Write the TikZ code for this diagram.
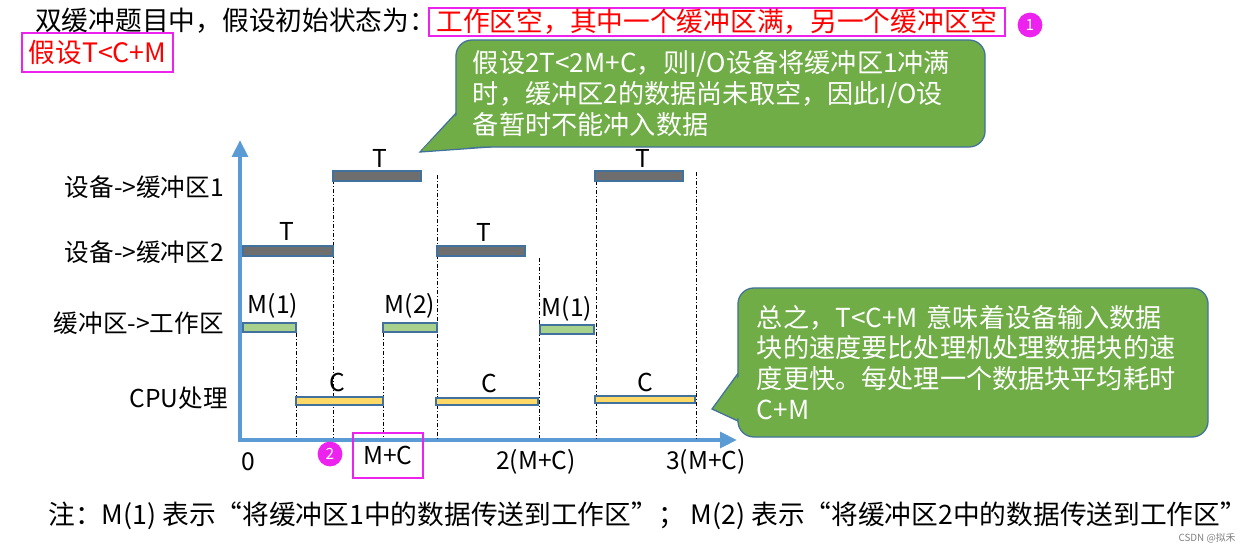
\documentclass[tikz,border=0pt]{standalone}
\usepackage{fontspec}
\usepackage{graphicx}
\setmainfont{Noto Sans CJK SC}
\usetikzlibrary{arrows.meta}
\definecolor{cb_green}{HTML}{70AD47}
\definecolor{cb_edge}{HTML}{41719C}
\definecolor{cb_axis}{HTML}{5B9BD5}
\definecolor{cb_gray}{HTML}{6E6E6E}
\definecolor{cb_lgreen}{HTML}{A9D18E}
\definecolor{cb_yellow}{HTML}{FFD966}
\definecolor{cb_pink}{HTML}{EE22EE}
\tikzstyle{txt}=[inner sep=0pt,font=\fontsize{19}{22}\selectfont]
\tikzstyle{lbl}=[inner sep=0pt,anchor=east,font=\fontsize{17.5}{21}\selectfont]
\tikzstyle{tag}=[inner sep=0pt,font=\fontsize{17.5}{21}\selectfont]
\tikzstyle{redbox}=[draw=cb_pink,line width=1.5pt,text=red,inner sep=0pt,
  font=\fontsize{19}{22}\selectfont]
\tikzstyle{badge}=[circle,fill=cb_pink,text=white,inner sep=0pt,
  minimum size=0.62cm,font=\fontsize{11}{12}\selectfont]
\tikzstyle{note}=[rectangle,rounded corners=0.4cm,fill=cb_green,draw=cb_edge,
  line width=0.9pt,text=white,align=left,inner sep=0pt,
  font=\fontsize{18.6}{22}\selectfont]
\tikzstyle{tri}=[fill=cb_green,draw=cb_edge,line width=0.9pt,line join=miter]
\tikzstyle{bar}=[draw=cb_edge,line width=0.8pt]
\tikzstyle{dashdot}=[line width=0.6pt,dash pattern=on 2.8pt off 1.4pt on 0.7pt off 1.4pt]
\tikzstyle{axis}=[draw=cb_axis,line width=3.5pt,-{Triangle[length=12pt,width=11pt]}]
\tikzstyle{none}=[]

\begin{document}
\begin{tikzpicture}[x=0.025cm,y=-0.025cm]
    \useasboundingbox (0,0) rectangle (1248,545);
            % heading
            \node [style=txt,anchor=west] (0) at (35,21) {双缓冲题目中，假设初始状态为：};
            \node [style=redbox,minimum width=14.375cm,minimum height=0.7cm] (1) at (717,22) {工作区空，其中一个缓冲区满，另一个缓冲区空};
            \node [style=badge] (2) at (1030,25) {1};
            \node [style=redbox,minimum width=3.775cm,minimum height=0.975cm] (3) at (97.5,52.5) {假设T<C+M};
            % callouts
            \path [style=tri] (420,152) -- (457,112) -- (490,147) -- cycle;
            \node [style=note,minimum width=13.225cm,minimum height=2.675cm,text width=12.375cm] (4) at (720.5,93.5)
              {假设2T<2M+C，则I/O设备将缓冲区1冲满\\时，缓冲区2的数据尚未取空，因此I/O设\\备暂时不能冲入数据};
            \fill [cb_green] (422,150) -- (458,114) -- (488,146) -- cycle;
            \path [style=tri] (712,409) -- (739,372) -- (740,422) -- cycle;
            \node [style=note,minimum width=11.75cm,minimum height=3.725cm,text width=10.8cm] (5) at (973,362.5)
              {总之，T<C+M 意味着设备输入数据\\块的速度要比处理机处理数据块的速\\度更快。每处理一个数据块平均耗时\\C+M};
            \fill [cb_green] (715,408) -- (741,374) -- (742,420) -- cycle;
            % axes
            \coordinate (6) at (240,442);
            \coordinate (7) at (240,140);
            \coordinate (8) at (737,440);
            \draw [style=axis] (6) to (7);
            \draw [style=axis] (238,440) to (8);
            % row labels
            \node [style=lbl] (9) at (224,187) {设备->缓冲区1};
            \node [style=lbl] (10) at (224,252) {设备->缓冲区2};
            \node [style=lbl] (11) at (224,323) {缓冲区->工作区};
            \node [style=lbl] (12) at (228,398) {CPU处理};
            % time marks
            \foreach \x/\y in {296/333,333/180,383/333,437/175,539/258,596/181,696/172}
              \draw [style=dashdot] (\x,\y) -- (\x,438);
            % bars
            \filldraw [style=bar,fill=cb_gray] (333,171) rectangle (421,181);
            \filldraw [style=bar,fill=cb_gray] (595,171) rectangle (683,181);
            \filldraw [style=bar,fill=cb_gray] (243,246) rectangle (333,256);
            \filldraw [style=bar,fill=cb_gray] (437,246) rectangle (525,256);
            \filldraw [style=bar,fill=cb_lgreen] (243,323) rectangle (296,332);
            \filldraw [style=bar,fill=cb_lgreen] (383,323) rectangle (437,332);
            \filldraw [style=bar,fill=cb_lgreen] (540,325) rectangle (594,334);
            \filldraw [style=bar,fill=cb_yellow] (296,397) rectangle (383,405);
            \filldraw [style=bar,fill=cb_yellow] (436,398) rectangle (538,405);
            \filldraw [style=bar,fill=cb_yellow] (595,396) rectangle (695,403);
            \node [style=tag] (13) at (380,158) {T};
            \node [style=tag] (14) at (643,158) {T};
            \node [style=tag] (15) at (287,231) {T};
            \node [style=tag] (16) at (484,232) {T};
            \node [style=tag] (17) at (273,306) {M(1)};
            \node [style=tag] (18) at (410,306) {M(2)};
            \node [style=tag] (19) at (567,309) {M(1)};
            \node [style=tag] (20) at (337,382) {C};
            \node [style=tag] (21) at (489,383) {C};
            \node [style=tag] (22) at (645,382) {C};
            % axis ticks
            \node [style=tag] (23) at (248,462) {0};
            \node [style=tag,draw=cb_pink,line width=1.5pt,minimum width=1.75cm,minimum height=1.125cm] (24) at (388,455.5) {M+C};
            \node [style=badge] (25) at (330,454) {2};
            \node [style=tag] (26) at (536,462) {2(M+C)};
            \node [style=tag] (27) at (706,462) {3(M+C)};
            % footnote
            \node [style=txt,anchor=west] (28) at (48,516)
              {注：M(1) 表示“将缓冲区1中的数据传送到工作区”；\ M(2) 表示“将缓冲区2中的数据传送到工作区”};
            \node [style=none,inner sep=0pt,text=gray,font=\fontsize{7}{8}\selectfont] (29) at (1207,538) {CSDN @拟禾};
    \end{tikzpicture}
\end{document}
